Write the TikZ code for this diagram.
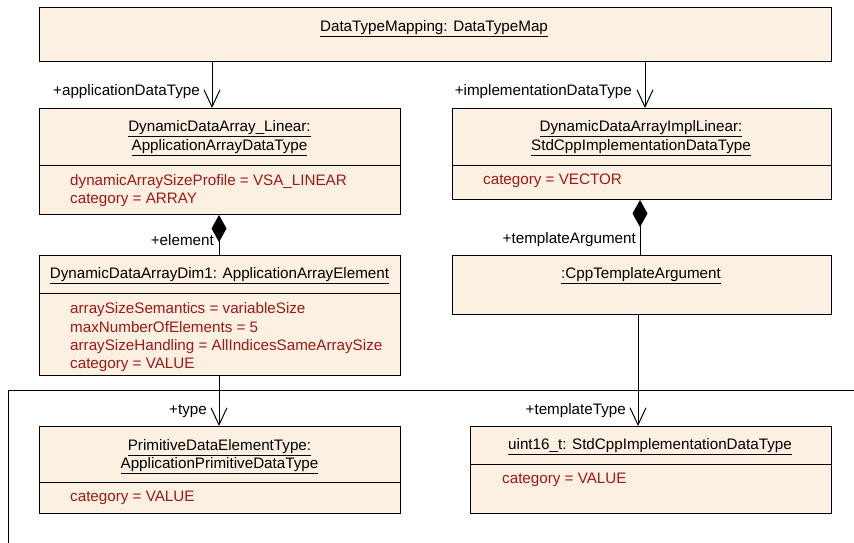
\documentclass[tikz,border=0pt]{standalone}
\usepackage{fontspec}
\setmainfont{Liberation Sans}
\usetikzlibrary{arrows.meta}
\definecolor{boxfill}{RGB}{251,240,225}
\definecolor{attr}{RGB}{160,24,24}
\tikzset{
  umlbox/.style={draw=black, fill=boxfill, line width=1pt, inner sep=0pt, anchor=north west},
  ttl/.style={font=\fontsize{15.2}{19}\selectfont, text=black, inner sep=0pt, align=center},
  att/.style={font=\fontsize{15.2}{18.3}\selectfont, text=attr, inner sep=0pt, anchor=north west, align=left},
  role/.style={font=\fontsize{15.2}{18}\selectfont, inner sep=0pt, anchor=east},
  divider/.style={line width=1pt},
  assoc/.style={line width=1pt, -{Straight Barb[length=17pt,width=16pt,line width=1pt]}},
  comp/.style={line width=1pt, {Diamond[length=27pt,width=15pt]}-},
  frameline/.style={line width=1pt}
}
\begin{document}
\begin{tikzpicture}[x=1pt,y=-1pt]
\useasboundingbox (0,0) rectangle (854,543);
% boxes
\node[umlbox, minimum width=792pt, minimum height=54pt] (top) at (39,7) {};
\node[umlbox, minimum width=361pt, minimum height=106pt] (arr) at (39,108) {};
\node[umlbox, minimum width=379pt, minimum height=91pt] (impl) at (452,108) {};
\node[umlbox, minimum width=361pt, minimum height=120pt] (elem) at (39,255) {};
\node[umlbox, minimum width=379pt, minimum height=59pt] (targ) at (452,255) {};
\node[umlbox, minimum width=361pt, minimum height=87pt] (prim) at (39,426) {};
\node[umlbox, minimum width=361pt, minimum height=87pt] (uint) at (470,426) {};
% dividers
\draw[divider] (arr.west |- 0,165) -- (arr.east |- 0,165);
\draw[divider] (impl.west |- 0,165) -- (impl.east |- 0,165);
\draw[divider] (elem.west |- 0,293) -- (elem.east |- 0,293);
\draw[divider] (prim.west |- 0,482) -- (prim.east |- 0,482);
\draw[divider] (uint.west |- 0,464) -- (uint.east |- 0,464);
% titles
\node[ttl] (topT) at (434,29) {\underline{DataTypeMapping: DataTypeMap}};
\node[ttl] (arrT1) at (219.5,129) {\underline{DynamicDataArray\_Linear:}};
\node[ttl] (arrT2) at (219.5,148) {\underline{ApplicationArrayDataType}};
\node[ttl] (implT1) at (641,129) {\underline{DynamicDataArrayImplLinear:}};
\node[ttl] (implT2) at (641,148) {\underline{StdCppImplementationDataType}};
\node[ttl] (elemT) at (219.5,276) {\underline{DynamicDataArrayDim1: ApplicationArrayElement}};
\node[ttl] (targT) at (641,276) {\underline{:CppTemplateArgument}};
\node[ttl] (primT1) at (219.5,448) {\underline{PrimitiveDataElementType:}};
\node[ttl] (primT2) at (219.5,466) {\underline{ApplicationPrimitiveDataType}};
\node[ttl] (uintT) at (650,447) {\underline{uint16\_t: StdCppImplementationDataType}};
% attributes
\node[att] (arrA) at (70,174) {dynamicArraySizeProfile = VSA\_LINEAR\\category = ARRAY};
\node[att] (implA) at (483,174) {category = VECTOR};
\node[att] (elemA) at (70,302.5) {arraySizeSemantics = variableSize\\maxNumberOfElements = 5\\arraySizeHandling = AllIndicesSameArraySize\\category = VALUE};
\node[att] (primA) at (70,491) {category = VALUE};
\node[att] (uintA) at (502,473) {category = VALUE};
% connectors
\draw[assoc] (top.south -| 212,0) -- (arr.north -| 212,0);
\draw[assoc] (top.south -| 645,0) -- (impl.north -| 645,0);
\draw[comp] (arr.south -| 219,0) -- (elem.north -| 219,0);
\draw[comp] (impl.south -| 640,0) -- (targ.north -| 640,0);
\draw[assoc] (elem.south -| 219,0) -- (prim.north -| 219,0);
\draw[assoc] (targ.south -| 638,0) -- (uint.north -| 638,0);
% role labels
\node[role] (r1) at (200,92) {+applicationDataType};
\node[role] (r2) at (632,92) {+implementationDataType};
\node[role] (r3) at (214,240) {+element};
\node[role] (r4) at (636,240) {+templateArgument};
\node[role] (r5) at (207,411) {+type};
\node[role] (r6) at (626,411) {+templateType};
% frame
\coordinate (fr1) at (854,390);
\coordinate (fr2) at (8,390);
\coordinate (fr3) at (8,543);
\draw[frameline] (fr1) -- (fr2) -- (fr3);
\end{tikzpicture}
\end{document}
